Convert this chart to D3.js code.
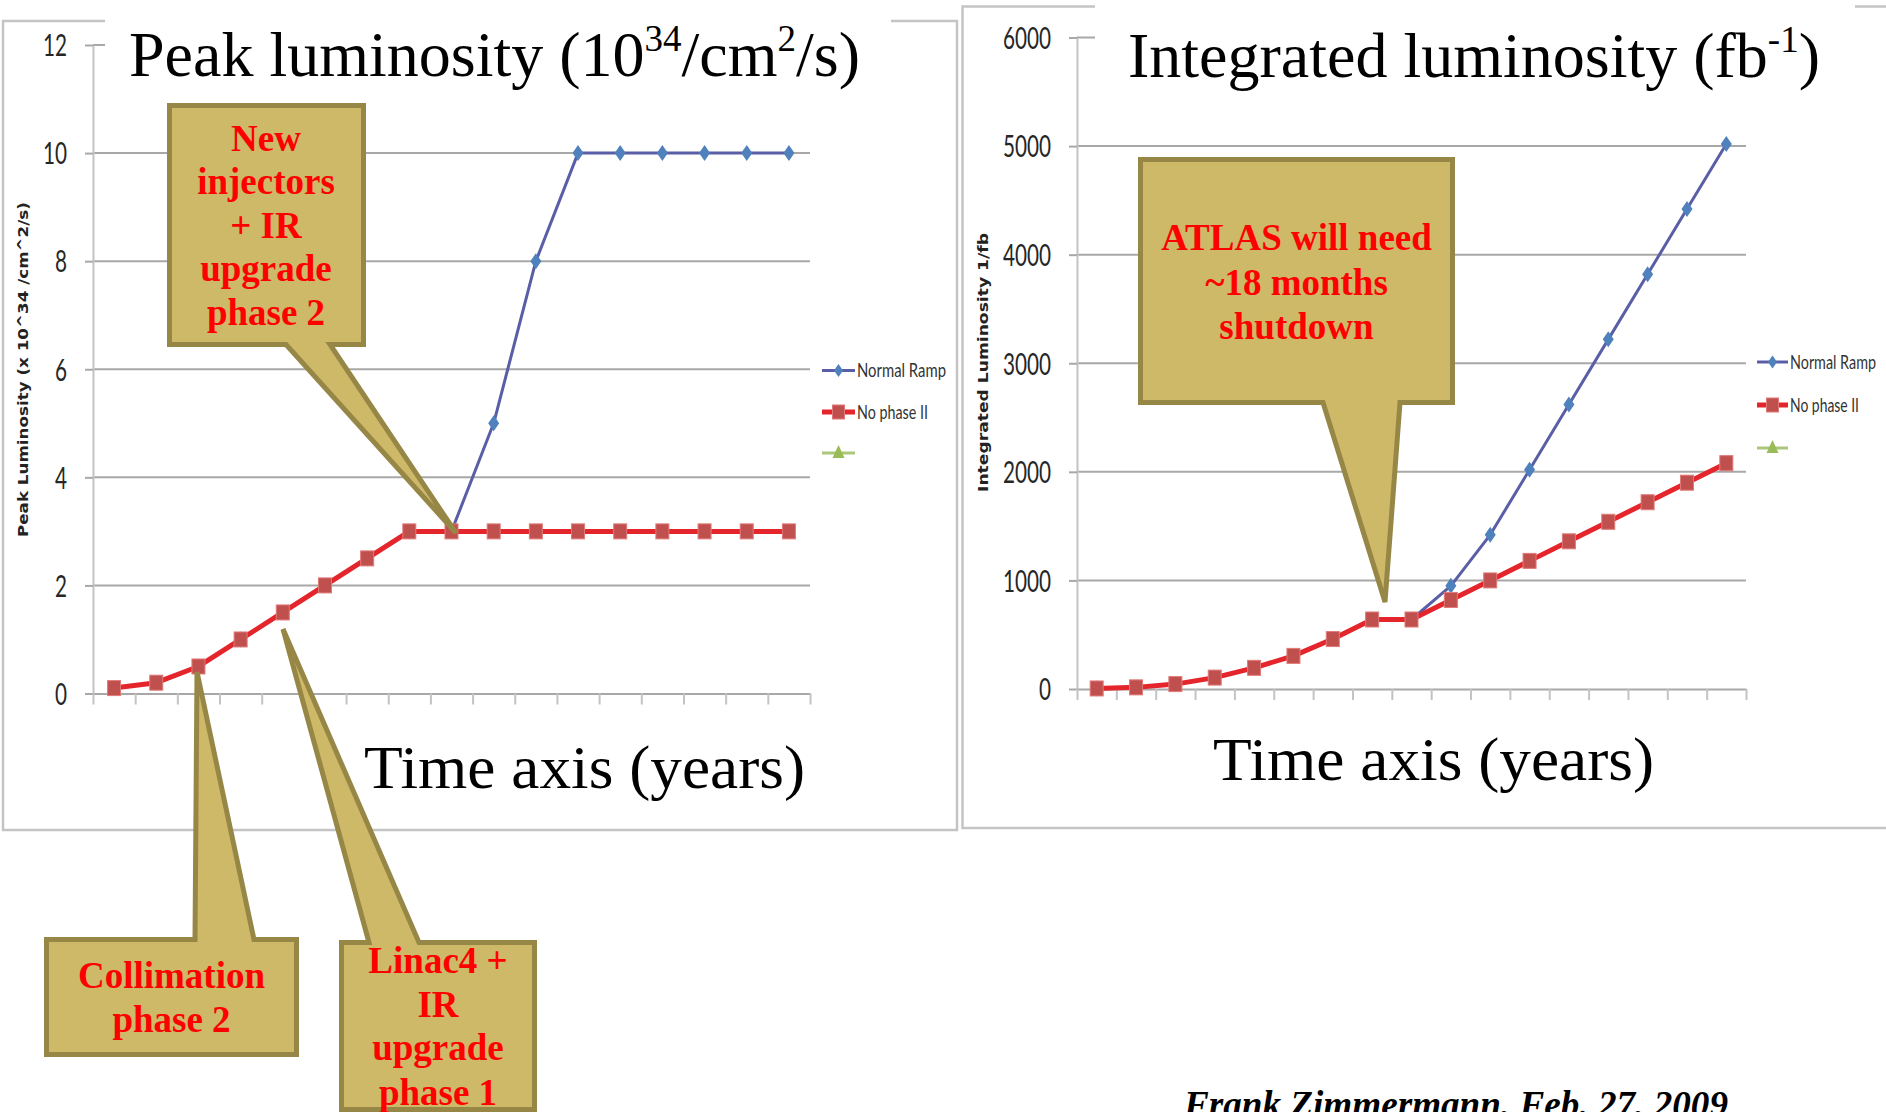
<!DOCTYPE html>
<html>
<head>
<meta charset="utf-8">
<script src="https://cdn.jsdelivr.net/npm/d3@7"></script>
<style>
  html, body { margin: 0; padding: 0; background: #fff; overflow: hidden; }
  svg { display: block; }
</style>
</head>
<body>
<svg id="slide" width="1886" height="1112"></svg>
<script>
// ---- data -------------------------------------------------------------
// seventeen yearly slots on the (unlabelled) time axis
const years = d3.range(17);

// peak luminosity, units of 10^34 cm^-2 s^-1
const peakNormalRamp = [0.1, 0.2, 0.5, 1, 1.5, 2, 2.5, 3, 3, 5, 8, 10, 10, 10, 10, 10, 10];
const peakNoPhase2   = [0.1, 0.2, 0.5, 1, 1.5, 2, 2.5, 3, 3, 3, 3, 3, 3, 3, 3, 3, 3];

// integrated luminosity, fb^-1
const intNormalRamp = [5, 15, 45, 105, 195, 305, 460, 640, 640, 950, 1420, 2020, 2620, 3220, 3820, 4420, 5020];
const intNoPhase2   = [5, 15, 45, 105, 195, 305, 460, 640, 640, 820, 1000, 1180, 1360, 1540, 1720, 1900, 2080];

const peakTicks = [0, 2, 4, 6, 8, 10, 12];
const intTicks  = [0, 1000, 2000, 3000, 4000, 5000, 6000];

const seriesNames = ["Normal Ramp", "No phase II", ""];

const calloutInjectors = ["New", "injectors", "+ IR", "upgrade", "phase 2"];
const calloutCollimation = ["Collimation", "phase 2"];
const calloutLinac = ["Linac4 +", "IR", "upgrade", "phase 1"];
const calloutAtlas = ["ATLAS will need", "~18 months", "shutdown"];

// ---- drawing ----------------------------------------------------------
const svg = d3.select("#slide");

const COL = {
  blueLine: "#5a5ea6", blueMark: "#4f81bd",
  redLine: "#e4252c", redMark: "#c0504d", redMarkEdge: "#e07a78",
  green: "#9bbb59", greenLine: "#aac77a",
  grid: "#a8a8a8", axis: "#c3c3c3", frame: "#c4c4c4",
  tickText: "#262626",
  calloutFill: "#cdb967", calloutEdge: "#978747"
};

const chartFont = "Lato, 'Liberation Sans', sans-serif";
const serif = "'Liberation Serif', 'Times New Roman', serif";

function diamondPath(cx, cy, w, h) {
  return `M${cx},${cy - h / 2}L${cx + w / 2},${cy}L${cx},${cy + h / 2}L${cx - w / 2},${cy}Z`;
}

function drawChart(opt) {
  const g = svg.append("g");

  // frame
  g.append("rect")
    .attr("x", opt.frame[0]).attr("y", opt.frame[1])
    .attr("width", opt.frame[2]).attr("height", opt.frame[3])
    .attr("fill", "#fff").attr("stroke", COL.frame).attr("stroke-width", 2.5);

  const x = d3.scaleLinear().domain([0, years.length]).range(opt.xRange);
  const y = d3.scaleLinear().domain([opt.ticks[0], opt.ticks[opt.ticks.length - 1]]).range(opt.yRange);

  // horizontal gridlines
  g.append("g").selectAll("line").data(opt.ticks.filter(t => t !== 0)).join("line")
    .attr("x1", opt.xRange[0]).attr("x2", opt.xRange[1])
    .attr("y1", d => y(d)).attr("y2", d => y(d))
    .attr("stroke", COL.grid).attr("stroke-width", 2);

  // y axis
  const ya = g.append("g")
    .attr("transform", `translate(${opt.xRange[0]},0)`)
    .call(d3.axisLeft(y).tickValues(opt.ticks).tickSize(8).tickSizeOuter(0).tickFormat(d3.format("d")));
  ya.attr("font-family", chartFont);
  ya.select(".domain").attr("stroke", COL.axis).attr("stroke-width", 2);
  ya.selectAll(".tick line").attr("stroke", COL.grid).attr("stroke-width", 2);
  ya.selectAll(".tick text")
    .attr("x", -26).attr("dy", "0.36em")
    .attr("font-size", 30).attr("fill", COL.tickText)
    .attr("textLength", d => String(d).length * 12)
    .attr("lengthAdjust", "spacingAndGlyphs");

  // x axis: category boundaries only, no labels
  const xa = g.append("g")
    .attr("transform", `translate(0,${y(0)})`)
    .call(d3.axisBottom(x).tickValues(d3.range(years.length + 1)).tickSize(11).tickSizeOuter(0).tickFormat(""));
  xa.select(".domain").attr("stroke", COL.grid).attr("stroke-width", 2);
  xa.selectAll(".tick line").attr("stroke", COL.axis).attr("stroke-width", 2);

  const cx = i => x(i + 0.5);
  const line = d3.line().x((d, i) => cx(i)).y(d => y(d));

  // Normal Ramp (drawn first, under the red series)
  g.append("path").datum(opt.blue).attr("d", line)
    .attr("fill", "none").attr("stroke", COL.blueLine).attr("stroke-width", 3)
    .attr("stroke-linejoin", "round");
  g.append("g").selectAll("path").data(opt.blue).join("path")
    .attr("d", (d, i) => diamondPath(cx(i), y(d), 11, 16))
    .attr("fill", COL.blueMark);

  // No phase II
  g.append("path").datum(opt.red).attr("d", line)
    .attr("fill", "none").attr("stroke", COL.redLine).attr("stroke-width", 5)
    .attr("stroke-linejoin", "round");
  g.append("g").selectAll("rect").data(opt.red).join("rect")
    .attr("x", (d, i) => cx(i) - 6.5).attr("y", d => y(d) - 7.5)
    .attr("width", 13).attr("height", 15)
    .attr("fill", COL.redMark).attr("stroke", COL.redMarkEdge).attr("stroke-width", 1);

  // y axis title
  g.append("text")
    .attr("transform", `translate(${opt.yTitlePos[0]},${opt.yTitlePos[1]}) rotate(-90)`)
    .attr("text-anchor", "middle")
    .attr("font-family", "'DejaVu Sans', Verdana, sans-serif").attr("font-weight", "bold")
    .attr("font-size", 13.5).attr("fill", "#222")
    .attr("textLength", opt.yTitleLen).attr("lengthAdjust", "spacingAndGlyphs")
    .text(opt.yTitle);

  // legend
  const lg = g.append("g");
  const [lx0, lx1] = opt.legendLine;
  const lmid = (lx0 + lx1) / 2;
  opt.legendY.forEach((ly, k) => {
    const color = k === 0 ? COL.blueLine : k === 1 ? COL.redLine : COL.greenLine;
    lg.append("line").attr("x1", lx0).attr("x2", lx1).attr("y1", ly).attr("y2", ly)
      .attr("stroke", color).attr("stroke-width", k === 1 ? 5 : 3);
    if (k === 0) {
      lg.append("path").attr("d", diamondPath(lmid, ly, 9, 13)).attr("fill", COL.blueMark);
    } else if (k === 1) {
      lg.append("rect").attr("x", lmid - 6).attr("y", ly - 7).attr("width", 12).attr("height", 14)
        .attr("fill", COL.redMark).attr("stroke", COL.redMarkEdge).attr("stroke-width", 1);
    } else {
      lg.append("path").attr("d", `M${lmid},${ly - 8}L${lmid + 6},${ly + 5}L${lmid - 6},${ly + 5}Z`)
        .attr("fill", COL.green);
    }
    if (seriesNames[k]) {
      // narrow, tall lettering: small font stretched vertically
      lg.append("text")
        .attr("transform", `translate(${lx1 + 2},${ly + 6.6}) scale(1,1.3)`)
        .attr("font-family", chartFont).attr("font-size", 14.3).attr("fill", "#333")
        .attr("textLength", opt.legendLen[k]).attr("lengthAdjust", "spacingAndGlyphs")
        .text(seriesNames[k]);
    }
  });

  // white band behind the slide title (cuts the frame and the top gridline)
  g.append("rect")
    .attr("x", opt.titleBox[0]).attr("y", opt.titleBox[1])
    .attr("width", opt.titleBox[2]).attr("height", opt.titleBox[3])
    .attr("fill", "#fff");

  return { x, y, cx };
}

drawChart({
  frame: [3, 21, 954, 809],
  xRange: [93, 810], yRange: [693.5, 45],
  ticks: peakTicks, blue: peakNormalRamp, red: peakNoPhase2,
  yTitle: "Peak Luminosity (x 10^34 /cm^2/s)", yTitlePos: [28, 369.5], yTitleLen: 335,
  legendLine: [822, 855], legendY: [370.5, 412, 453], legendLen: [89, 71],
  titleBox: [105, 8, 786, 88]
});

drawChart({
  frame: [962.5, 6.5, 940, 821.5],
  xRange: [1077, 1746], yRange: [689, 37.5],
  ticks: intTicks, blue: intNormalRamp, red: intNoPhase2,
  yTitle: "Integrated Luminosity 1/fb", yTitlePos: [988, 362.5], yTitleLen: 259,
  legendLine: [1757, 1788], legendY: [362, 405, 448], legendLen: [86, 69],
  titleBox: [1095, 0, 760, 96]
});

// ---- slide titles -------------------------------------------------------
function titleText(xp, yp, parts) {
  const t = svg.append("text").attr("x", xp).attr("y", yp)
    .attr("font-family", serif).attr("font-size", 64).attr("fill", "#000");
  let raised = false;
  parts.forEach(p => {
    const s = t.append("tspan").text(p.text);
    if (p.sup && !raised) { s.attr("dy", -25).attr("font-size", 37); raised = true; }
    else if (!p.sup && raised) { s.attr("dy", 25); raised = false; }
  });
  return t;
}

titleText(129, 76, [
  { text: "Peak luminosity (10" }, { text: "34", sup: true },
  { text: "/cm" }, { text: "2", sup: true }, { text: "/s)" }
]);
titleText(1128, 77, [
  { text: "Integrated luminosity (fb" }, { text: "-1", sup: true }, { text: ")" }
]);

svg.append("text").attr("x", 364).attr("y", 788)
  .attr("font-family", serif).attr("font-size", 62).attr("textLength", 441)
  .attr("lengthAdjust", "spacingAndGlyphs").text("Time axis (years)");
svg.append("text").attr("x", 1213).attr("y", 780)
  .attr("font-family", serif).attr("font-size", 62).attr("textLength", 441)
  .attr("lengthAdjust", "spacingAndGlyphs").text("Time axis (years)");

// ---- callouts -----------------------------------------------------------
// box = outer edges [x0, y0, x1, y1]; wedge leaves the box on `side` between bx0..bx1 and ends at tip
function callout(box, side, bx0, bx1, tip, lines, textCx, baselines) {
  const h = 2.5; // half the stroke width: path runs along the middle of the border
  const [x0, y0, x1, y1] = [box[0] + h, box[1] + h, box[2] - h, box[3] - h];
  let d;
  if (side === "bottom") {
    d = `M${x0},${y0}H${x1}V${y1}H${bx1}L${tip[0]},${tip[1]}L${bx0},${y1}H${x0}Z`;
  } else {
    d = `M${x0},${y0}H${bx0}L${tip[0]},${tip[1]}L${bx1},${y0}H${x1}V${y1}H${x0}Z`;
  }
  const g = svg.append("g");
  g.append("path").attr("d", d)
    .attr("fill", COL.calloutFill).attr("stroke", COL.calloutEdge)
    .attr("stroke-width", 5).attr("stroke-linejoin", "miter");
  g.selectAll("text").data(lines).join("text")
    .attr("x", textCx).attr("y", (dd, i) => baselines[i])
    .attr("text-anchor", "middle")
    .attr("font-family", serif).attr("font-weight", "bold").attr("font-size", 37)
    .attr("fill", "#ff0000")
    .text(dd => dd);
}

callout([167, 103, 366, 347], "bottom", 286, 330, [456, 533],
  calloutInjectors, 266, [151, 194, 237.5, 281, 325]);

callout([44, 937, 299, 1057], "top", 195, 254, [197, 672],
  calloutCollimation, 171.5, [988, 1032]);

callout([339, 940, 537, 1112], "top", 369, 419, [283, 629],
  calloutLinac, 438, [973, 1017, 1060, 1105]);

callout([1138, 157, 1455, 405], "bottom", 1323, 1400, [1385, 602],
  calloutAtlas, 1296.5, [250, 294.5, 338.5]);

// ---- footer -------------------------------------------------------------
svg.append("text").attr("x", 1184).attr("y", 1117)
  .attr("font-family", serif).attr("font-weight", "bold").attr("font-style", "italic")
  .attr("font-size", 37).attr("textLength", 544).attr("lengthAdjust", "spacingAndGlyphs")
  .text("Frank Zimmermann, Feb. 27, 2009");
</script>
</body>
</html>
